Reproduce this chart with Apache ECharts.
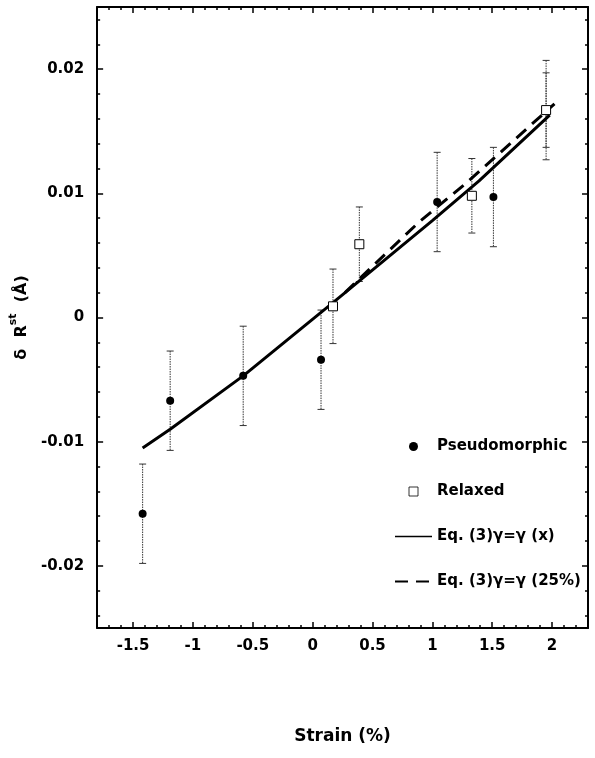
<!DOCTYPE html>
<html>
<head>
<meta charset="utf-8">
<script src="https://cdn.jsdelivr.net/npm/echarts@6/dist/echarts.min.js"></script>
<style>
  html, body { margin: 0; padding: 0; background: #fff; }
  #chart { width: 595px; height: 758px; }
</style>
</head>
<body>
<div id="chart"></div>
<script>
// data
const pseudoX = [-1.42, -1.19, -0.58, 0.07, 1.04, 1.51, 1.95];
const pseudoY = [-0.0158, -0.0067, -0.0047, -0.0034, 0.0093, 0.0097, 0.0167];
const pseudoErr = [0.004, 0.004, 0.004, 0.004, 0.004, 0.004, 0.004];

const relaxedX = [0.17, 0.39, 1.33, 1.95];
const relaxedY = [0.0009, 0.0059, 0.0098, 0.0167];
const relaxedErr = [0.003, 0.003, 0.003, 0.003];

const fitX = [-1.42, -1.19, -0.58, 0.17, 1.0, 1.39, 1.98];
const fitY = [-0.0105, -0.0090, -0.0047, 0.0012, 0.0078, 0.011, 0.0163];

const fit25X = [0.27, 0.89, 1.28, 2.02];
const fit25Y = [0.0020, 0.0077, 0.0108, 0.0172];

const xTicks = [-1.5, -1, -0.5, 0, 0.5, 1, 1.5, 2];
const yTicks = [-0.02, -0.01, 0, 0.01, 0.02];

const names = ["Pseudomorphic", "Relaxed", "Eq. (3)\u03b3=\u03b3 (x)", "Eq. (3)\u03b3=\u03b3 (25%)"];

const xRange = [-1.8, 2.3];
const yRange = [-0.025, 0.025];

function steps(a, b, s) {
  const out = [];
  const n = Math.round((b - a) / s);
  for (let i = 0; i <= n; i++) out.push(+(a + i * s).toFixed(4));
  return out;
}
const xMinor = steps(xRange[0], xRange[1], 0.1);
const yMinor = steps(yRange[0] + 0.001, yRange[1] - 0.001, 0.002);

const zip = (xs, ys, es) => xs.map((x, i) => es ? [x, ys[i], es[i]] : [x, ys[i]]);

const font = "DejaVu Sans";

function tickAxis(dim, pos, values, len, opts) {
  return Object.assign({
    type: "value",
    position: pos,
    min: dim === "x" ? xRange[0] : yRange[0],
    max: dim === "x" ? xRange[1] : yRange[1],
    axisLine: { show: false, onZero: false },
    axisTick: { show: true, inside: true, length: len, customValues: values,
      lineStyle: { color: "#000", width: 1.5 } },
    axisLabel: { show: false },
    splitLine: { show: false }
  }, opts || {});
}
const frameLine = { axisLine: { show: true, onZero: false, lineStyle: { color: "#000", width: 2 } } };

const chart = echarts.init(document.getElementById("chart"));

function errorBar(params, api) {
  const x = api.value(0), y = api.value(1), e = api.value(2);
  const top = api.coord([x, y + e]);
  const bot = api.coord([x, y - e]);
  const cap = 3.5;
  const style = { stroke: "#333", lineWidth: 1, lineDash: [1.5, 1] };
  return {
    type: "group",
    children: [
      { type: "line", shape: { x1: top[0], y1: top[1], x2: bot[0], y2: bot[1] }, style: style },
      { type: "line", shape: { x1: top[0] - cap, y1: top[1], x2: top[0] + cap, y2: top[1] }, style: { stroke: "#333", lineWidth: 1 } },
      { type: "line", shape: { x1: bot[0] - cap, y1: bot[1], x2: bot[0] + cap, y2: bot[1] }, style: { stroke: "#333", lineWidth: 1 } }
    ]
  };
}

chart.setOption({
  animation: false,
  backgroundColor: "#fff",
  textStyle: { fontFamily: font },
  grid: { left: 91, right: 7, top: 7, bottom: 130 },
  legend: {
    orient: "vertical",
    left: 389,
    top: 434,
    itemWidth: 37,
    itemHeight: 9,
    itemGap: 30,
    textStyle: { fontFamily: font, fontWeight: "bold", fontSize: 15, color: "#000" },
    data: [
      { name: names[0] },
      { name: names[1], icon: "path://M0,0H10V10H0Z", itemStyle: { borderWidth: 0.8 } },
      { name: names[2], lineStyle: { width: 1.5 }, itemStyle: { opacity: 0 } },
      { name: names[3], lineStyle: { width: 2 }, itemStyle: { opacity: 0 } }
    ]
  },
  xAxis: [
    {
      type: "value",
      position: "bottom",
      min: xRange[0],
      max: xRange[1],
      axisLine: { show: true, onZero: false, lineStyle: { color: "#000", width: 2 } },
      axisTick: { show: true, inside: true, length: 6, customValues: xTicks,
        lineStyle: { color: "#000", width: 1.5 } },
      axisLabel: { show: true, customValues: xTicks, margin: 11,
        fontFamily: font, fontWeight: "bold", fontSize: 15, color: "#000" },
      splitLine: { show: false },
      name: "Strain (%)",
      nameLocation: "middle",
      nameGap: 100,
      nameTextStyle: { fontFamily: font, fontWeight: "bold", fontSize: 17, color: "#000" }
    },
    tickAxis("x", "bottom", xMinor, 3),
    tickAxis("x", "top", xTicks, 6, frameLine),
    tickAxis("x", "top", xMinor, 3)
  ],
  yAxis: [
    {
      type: "value",
      position: "left",
      min: yRange[0],
      max: yRange[1],
      axisLine: { show: true, onZero: false, lineStyle: { color: "#000", width: 2 } },
      axisTick: { show: true, inside: true, length: 6, customValues: yTicks,
        lineStyle: { color: "#000", width: 1.5 } },
      axisLabel: { show: true, customValues: yTicks, margin: 13,
        fontFamily: font, fontWeight: "bold", fontSize: 15, color: "#000" },
      splitLine: { show: false },
      name: "{a|\u03b4  R}{s|st}{a|  (\u00c5)}",
      nameLocation: "middle",
      nameGap: 57,
      nameTextStyle: {
        color: "#000",
        rich: {
          a: { fontFamily: font, fontWeight: "bold", fontSize: 16, color: "#000", lineHeight: 22, verticalAlign: "bottom" },
          s: { fontFamily: font, fontWeight: "bold", fontSize: 11, color: "#000", lineHeight: 22, verticalAlign: "top" }
        }
      }
    },
    tickAxis("y", "left", yMinor, 3),
    tickAxis("y", "right", yTicks, 6, frameLine),
    tickAxis("y", "right", yMinor, 3)
  ],
  series: [
    {
      type: "custom",
      name: "errPseudo",
      renderItem: errorBar,
      data: zip(pseudoX, pseudoY, pseudoErr),
      encode: { x: 0, y: 1 },
      z: 1
    },
    {
      type: "custom",
      name: "errRelaxed",
      renderItem: errorBar,
      data: zip(relaxedX, relaxedY, relaxedErr),
      encode: { x: 0, y: 1 },
      z: 1
    },
    {
      type: "line",
      name: names[2],
      data: zip(fitX, fitY),
      showSymbol: false,
      symbol: "none",
      lineStyle: { color: "#000", width: 3 },
      itemStyle: { color: "#000" },
      z: 2
    },
    {
      type: "line",
      name: names[3],
      data: zip(fit25X, fit25Y),
      showSymbol: false,
      symbol: "none",
      lineStyle: { color: "#000", width: 3, type: [13, 8] },
      itemStyle: { color: "#000" },
      z: 2
    },
    {
      type: "scatter",
      name: names[0],
      data: zip(pseudoX, pseudoY),
      symbol: "circle",
      symbolSize: 8,
      itemStyle: { color: "#000", opacity: 1 },
      z: 3
    },
    {
      type: "scatter",
      name: names[1],
      data: zip(relaxedX, relaxedY),
      symbol: "rect",
      symbolSize: 9,
      itemStyle: { color: "#fff", borderColor: "#000", borderWidth: 1, opacity: 1 },
      z: 4
    }
  ]
});
</script>
</body>
</html>
